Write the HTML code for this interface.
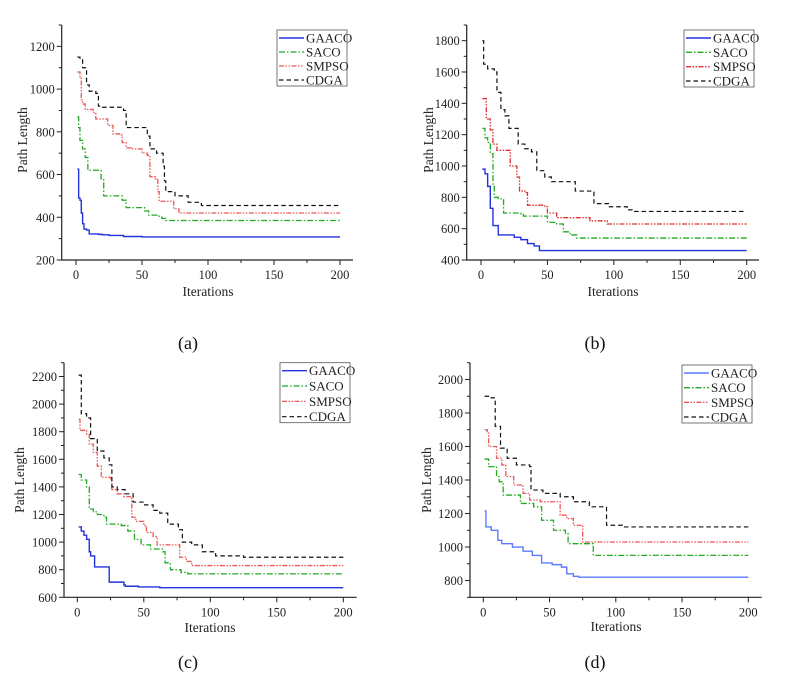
<!DOCTYPE html>
<html><head><meta charset="utf-8">
<style>
html,body{margin:0;padding:0;background:#fff;}
svg, svg text{font-family:"Liberation Serif","DejaVu Serif",serif;}
</style></head>
<body>
<svg id="fig" width="790" height="679" viewBox="0 0 790 679" xmlns="http://www.w3.org/2000/svg" font-family="Liberation Serif, serif"></svg>
<script>
// ---- data: [iteration, path length] step points ----
const seriesNames = ["GAACO","SACO","SMPSO","CDGA"];
const xTicks = [0,50,100,150,200];
const aYTicks = [200,400,600,800,1000,1200];
const bYTicks = [400,600,800,1000,1200,1400,1600,1800];
const cYTicks = [600,800,1000,1200,1400,1600,1800,2000,2200];
const dYTicks = [800,1000,1200,1400,1600,1800,2000];

const aGAACO = [[1,625],[2,490],[3,480],[4,420],[5,370],[6,345],[8,340],[10,322],[17,320],[20,318],[25,315],[36,310],[50,308],[200,308]];
const aSACO = [[1,870],[2,820],[3,760],[5,720],[7,680],[9,620],[17,620],[19,580],[21,500],[30,500],[35,480],[38,445],[48,445],[52,430],[55,410],[62,405],[65,395],[68,385],[200,385]];
const aSMPSO = [[1,1080],[3,1050],[4,950],[5,930],[7,905],[13,890],[15,860],[20,860],[24,830],[28,790],[33,785],[35,750],[38,725],[42,720],[50,700],[54,690],[56,590],[60,580],[62,520],[63,475],[70,475],[74,440],[78,420],[200,420]];
const aCDGA = [[1,1150],[3,1140],[5,1100],[8,1020],[10,990],[15,980],[17,920],[20,915],[36,900],[38,820],[54,780],[56,720],[61,700],[66,640],[67,570],[68,520],[75,500],[85,470],[95,455],[200,455]];

const bGAACO = [[1,980],[3,950],[5,870],[7,730],[9,620],[11,620],[13,560],[23,560],[25,545],[30,530],[35,505],[40,490],[44,460],[200,460]];
const bSACO = [[1,1240],[3,1180],[5,1150],[7,1080],[9,870],[10,800],[13,790],[17,700],[30,690],[32,680],[47,680],[50,640],[57,630],[62,580],[67,560],[72,540],[200,540]];
const bSMPSO = [[1,1430],[3,1430],[4,1300],[7,1230],[9,1140],[12,1100],[22,1000],[25,1000],[27,930],[29,840],[33,830],[35,750],[48,740],[50,700],[57,670],[82,650],[95,630],[200,630]];
const bCDGA = [[1,1800],[2,1650],[5,1620],[10,1600],[12,1470],[15,1360],[18,1320],[21,1240],[27,1240],[28,1140],[33,1110],[38,1090],[42,970],[48,930],[53,900],[68,900],[71,840],[85,760],[96,740],[110,720],[115,710],[200,710]];

const cGAACO = [[1,1110],[3,1080],[5,1050],[7,1020],[9,930],[10,900],[13,820],[23,820],[24,710],[35,690],[36,680],[46,675],[62,670],[200,670]];
const cSACO = [[1,1490],[3,1450],[7,1400],[9,1240],[12,1220],[15,1200],[20,1180],[22,1130],[33,1120],[38,1080],[43,1020],[48,980],[55,950],[64,930],[66,850],[70,800],[78,780],[83,770],[200,770]];
const cSMPSO = [[1,1890],[2,1810],[7,1780],[9,1710],[12,1650],[15,1550],[18,1470],[25,1460],[26,1380],[30,1350],[35,1330],[40,1320],[41,1180],[44,1150],[50,1120],[52,1070],[57,1040],[60,980],[76,980],[77,890],[82,860],[86,830],[200,830]];
const cCDGA = [[1,2210],[3,1930],[7,1900],[10,1750],[15,1660],[20,1610],[24,1560],[26,1400],[30,1380],[36,1350],[42,1290],[50,1270],[57,1230],[62,1210],[68,1130],[76,1090],[79,1000],[86,980],[94,930],[104,900],[125,890],[200,890]];

const dGAACO = [[1,1215],[2,1120],[6,1100],[11,1040],[14,1020],[22,1000],[30,975],[37,950],[44,905],[52,895],[59,880],[63,840],[68,825],[72,820],[200,820]];
const dSACO = [[1,1525],[4,1480],[10,1420],[12,1390],[15,1310],[27,1310],[28,1260],[38,1240],[44,1160],[53,1100],[62,1080],[64,1020],[83,950],[200,950]];
const dSMPSO = [[1,1700],[3,1680],[4,1600],[10,1530],[14,1490],[17,1420],[23,1370],[30,1320],[35,1280],[43,1270],[58,1190],[63,1170],[68,1130],[75,1030],[100,1030],[200,1030]];
const dCDGA = [[1,1900],[6,1890],[9,1720],[13,1590],[18,1530],[25,1490],[35,1480],[36,1340],[45,1320],[58,1300],[68,1270],[80,1240],[93,1130],[105,1120],[200,1120]];

const NS="http://www.w3.org/2000/svg";
const FONT="Liberation Serif, DejaVu Serif, serif";
const svg=document.getElementById('fig');
function mk(tag,attrs,parent){const e=document.createElementNS(NS,tag);for(const k in attrs)e.setAttribute(k,attrs[k]);if(tag==='text')e.setAttribute('font-family',FONT);(parent||svg).appendChild(e);return e;}

const styles=[
 {stroke:"#2233dd",dash:"",w:1.4},
 {stroke:"#22aa22",dash:"6 2 1.5 2",w:1.3},
 {stroke:"#e03030",dash:"5 1.5 1.5 1.5 1.5 1.5",w:1.3},
 {stroke:"#111",dash:"4.5 3",w:1.2}
];

const panels=[
 {id:"a",ax:61.7,ay:260,top:25,right:353,x0:76,x200:340,ymin:200,ymax:1300,yt:aYTicks,series:[aGAACO,aSACO,aSMPSO,aCDGA],leg:[277,30,70,56],ylab:[27,140],xlab:[208,296],cap:[188,343],gcol:"#2233dd",scol:"#ee5555"},
 {id:"b",ax:466.7,ay:260,top:25,right:759,x0:481,x200:746.7,ymin:400,ymax:1900,yt:bYTicks,series:[bGAACO,bSACO,bSMPSO,bCDGA],leg:[684,30,70,57],ylab:[433,140],xlab:[613,296],cap:[595,343],gcol:"#2233dd",scol:"#e03030"},
 {id:"c",ax:64,ay:597.3,top:362.7,right:356.7,x0:77.3,x200:343.3,ymin:600,ymax:2300,yt:cYTicks,series:[cGAACO,cSACO,cSMPSO,cCDGA],leg:[280,362.7,70,60],ylab:[24,480],xlab:[210,632],cap:[188,662],gcol:"#2233dd",scol:"#ee5555"},
 {id:"d",ax:470,ay:597.3,top:362.7,right:761.7,x0:483.3,x200:748.3,ymin:700,ymax:2100,yt:dYTicks,series:[dGAACO,dSACO,dSMPSO,dCDGA],leg:[682,365,70,58],ylab:[431,480],xlab:[616,631],cap:[595,662],gcol:"#5b7cff",scol:"#ee5555"}
];

panels.forEach(p=>{
  const g=mk('g',{});
  
  
  const sx=v=>p.x0+(p.x200-p.x0)*v/200;
  const sy=v=>p.ay-(p.ay-p.top)*(v-p.ymin)/(p.ymax-p.ymin);
  const axes=mk('path',{d:`M${p.ax},${p.top}V${p.ay}H${p.right}`,fill:"none",stroke:"#222","stroke-width":1.2},g);
  
  
  const ystep=p.yt[1]-p.yt[0];
  for(let v=p.ymin;v<=p.ymax+1e-6;v+=ystep/2){
    const major=p.yt.includes(v);
    mk('line',{x1:p.ax,x2:p.ax-(major?5:3),y1:sy(v),y2:sy(v),stroke:"#222","stroke-width":1},g);
  }
  p.yt.forEach(v=>{
    const t=mk('text',{x:p.ax-7,y:sy(v)+4.5,"text-anchor":"end","font-size":12.5,fill:"#222"},g);
    t.textContent=v;
    
    
  });
  for(let v=0;v<=200;v+=25){
    const major=v%50===0;
    mk('line',{x1:sx(v),x2:sx(v),y1:p.ay,y2:p.ay+(major?5:3),stroke:"#222","stroke-width":1},g);
  }
  xTicks.forEach(v=>{
    const t=mk('text',{x:sx(v),y:p.ay+19,"text-anchor":"middle","font-size":12.5,fill:"#222"},g);
    t.textContent=v;
    
    
  });
  const yl=mk('text',{x:p.ylab[0],y:p.ylab[1],transform:`rotate(-90 ${p.ylab[0]} ${p.ylab[1]})`,"text-anchor":"middle","font-size":13.5,fill:"#222"},g);
  yl.textContent="Path Length";
  
  
  const xl=mk('text',{x:p.xlab[0],y:p.xlab[1],"text-anchor":"middle","font-size":13.5,fill:"#222"},g);
  xl.textContent="Iterations";
  
  
  const cap=mk('text',{x:p.cap[0],y:p.cap[1]+6,"text-anchor":"middle","font-size":18,fill:"#111"},g);
  cap.textContent="("+p.id+")";
  
  
  p.series.forEach((s,i)=>{
    let d=`M${sx(s[0][0])},${sy(s[0][1])}`;
    for(let k=1;k<s.length;k++){d+=`H${sx(s[k][0])}V${sy(s[k][1])}`;}
    const st=styles[i];
    const col=i===0?p.gcol:(i===2?p.scol:st.stroke);
    const path=mk('path',{d:d,fill:"none",stroke:col,"stroke-width":st.w,"stroke-dasharray":st.dash},g);
    
    
  });
  const [lx,ly,lw,lh]=p.leg;
  const lg=mk('g',{},g);
  
  
  mk('rect',{x:lx,y:ly,width:lw,height:lh,fill:"#fff",stroke:"#555","stroke-width":0.8},lg);
  seriesNames.forEach((n,i)=>{
    const yy=ly+8+i*(lh-14)/3;
    const st=styles[i];
    const col=i===0?p.gcol:(i===2?p.scol:st.stroke);
    const ln=mk('line',{x1:lx+2,x2:lx+27,y1:yy,y2:yy,stroke:col,"stroke-width":st.w,"stroke-dasharray":st.dash},lg);
    
    
    const t=mk('text',{x:lx+29,y:yy+4.5,"font-size":13,fill:"#222"},lg);
    t.textContent=n;
    
    
  });
});
</script>
</body></html>
